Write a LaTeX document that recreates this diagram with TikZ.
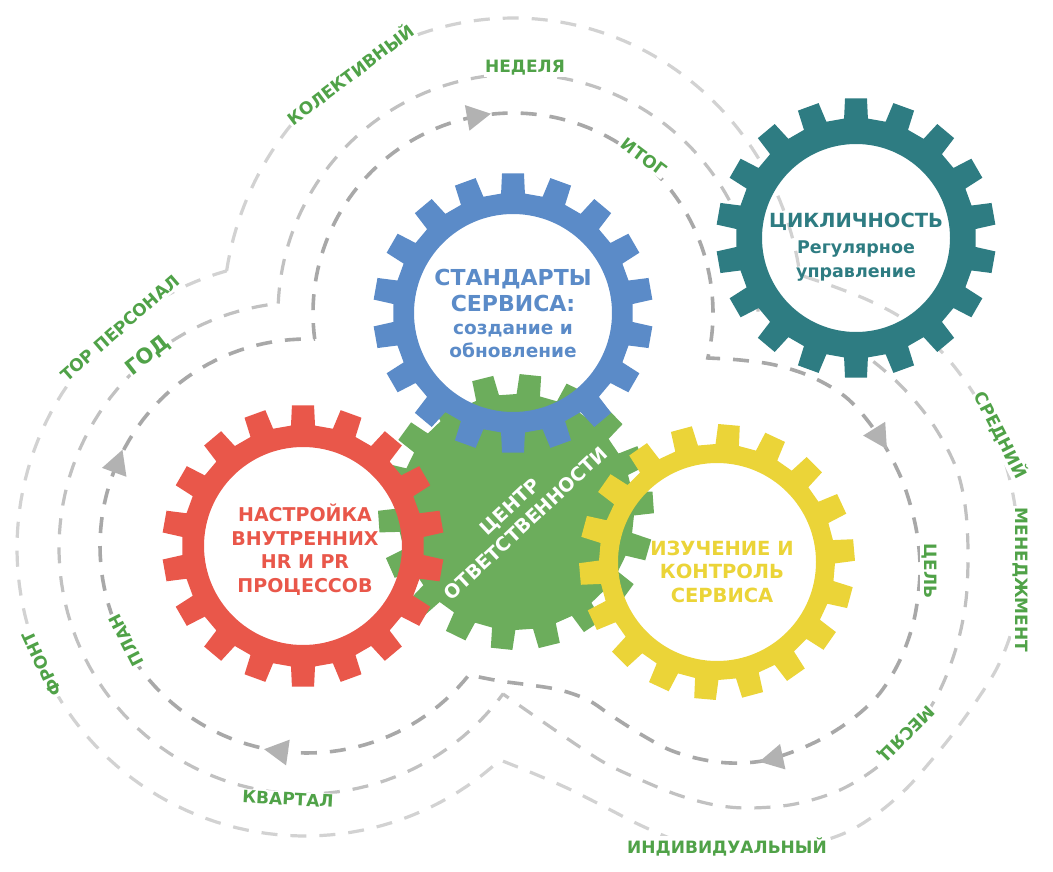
\documentclass[tikz,border=0pt]{standalone}
\usepackage{fontspec}
\setmainfont{DejaVu Sans}
\definecolor{gblue}{RGB}{91,139,200}
\definecolor{gteal}{RGB}{46,124,130}
\definecolor{gred}{RGB}{233,87,74}
\definecolor{gyellow}{RGB}{235,212,56}
\definecolor{ggreen}{RGB}{108,173,92}
\definecolor{lgreen}{RGB}{80,162,72}
\definecolor{lineA}{RGB}{168,168,168}
\definecolor{lineB}{RGB}{193,193,193}
\definecolor{lineC}{RGB}{210,210,210}
\definecolor{arrowc}{RGB}{178,178,178}
\newcommand{\fsz}[1]{\fontsize{#1}{#1}\selectfont}
% cx, cy, phase, Ro, Rr, Ri, colour
\newcommand{\drawgear}[7]{%
  \fill[#7, even odd rule, shift={(#1,#2)}] ({#3-5.7}:#5)
    \foreach \k in {0,...,17}{ -- ({#3+20*\k-5.7}:#5) -- ({#3+20*\k-4.5}:#4) -- ({#3+20*\k+4.5}:#4) -- ({#3+20*\k+5.7}:#5) } -- cycle
    (0,0) circle[radius=#6];}
\newcommand{\drawsolidgear}[6]{%
  \fill[#6, shift={(#1,#2)}] ({#3-5.7}:#5)
    \foreach \k in {0,...,17}{ -- ({#3+20*\k-5.7}:#5) -- ({#3+20*\k-4.5}:#4) -- ({#3+20*\k+4.5}:#4) -- ({#3+20*\k+5.7}:#5) } -- cycle;}
\newcommand{\flowtri}[3]{\fill[arrowc, shift={(#1,#2)}, rotate=#3] (13,0) -- (-11,-13) -- (-11,13) -- cycle;}
\begin{document}
\begin{tikzpicture}[x=1pt,y=-1pt,
  inl/.style={draw=lineA, line width=3.6pt, dash pattern=on 16pt off 13pt},
  midl/.style={draw=lineB, line width=3.2pt, dash pattern=on 16pt off 13pt},
  outl/.style={draw=lineC, line width=3.2pt, dash pattern=on 16pt off 13pt},
  lab/.style={text=lgreen, font=\bfseries\fsz{17}, fill=white, inner sep=1.5pt},
  gtxt/.style={font=\bfseries\fsz{#1}, anchor=base, inner sep=0pt}]
\useasboundingbox (0,0) rectangle (1053,872);
\fill[white] (0,0) rectangle (1053,872);

% ---------- dashed loops ----------
\draw[outl] plot[domain=189:351.8, samples=100, variable=\t] ({513+290*cos(\t)},{318+300*sin(\t)})
  -- plot[smooth, tension=0.55] coordinates {(800,275) (835,287) (870,301) (905,320) (940,350) (968,385) (990,422) (1004,458) (1014,500) (1019,545) (1019,590) (1012,630) (997,668) (975,703) (952,735) (930,762) (906,789) (878,813) (845,833) (800,847) (755,852) (715,850) (680,842) (640,825) (601,805) (567,788) (530,772) (500,760)}
  -- plot[domain=47.4:254.2, samples=100, variable=\t] ({305+288*cos(\t)},{548+288*sin(\t)}) -- cycle;

\draw[midl] plot[domain=182.5:360, samples=100, variable=\t] ({518+240*cos(\t)},{314+240*sin(\t)})
  -- plot[smooth, tension=0.55] coordinates {(758,314) (800,322) (850,345) (895,380) (930,420) (955,465) (965,505) (968,550) (966,600) (957,645) (940,690) (915,730) (880,765) (840,790) (795,804) (750,808) (715,805) (678,795) (641,780) (605,763) (565,737) (503,694)}
  -- plot[domain=36.3:263.7, samples=100, variable=\t] ({305+246*cos(\t)},{548+246*sin(\t)}) -- cycle;

\draw[inl] plot[domain=172.5:373, samples=100, variable=\t] ({513+200*cos(\t)},{313+200*sin(\t)})
  -- plot[smooth, tension=0.55] coordinates {(708,358) (740,360) (775,365) (812,377) (848,399) (878,435) (902,480) (916,528) (920,572) (914,620) (900,660) (880,693) (855,717) (825,737) (795,751) (762,761) (730,763) (700,759) (670,750) (642,735) (612,716) (588,700) (560,690) (530,685) (500,681) (469,675)}
  -- plot[domain=38.4:272.1, samples=100, variable=\t] ({307+207*cos(\t)},{546+207*sin(\t)}) -- cycle;

% ---------- arrow heads ----------
\flowtri{478}{116}{10}
\flowtri{880}{438}{-58}
\flowtri{772}{759}{192}
\flowtri{277}{751}{172}
\flowtri{118}{462}{70}

% ---------- gears ----------
\drawsolidgear{516}{512}{16}{138}{118}{ggreen}
\node[font=\bfseries\fsz{19}, text=white, align=center, rotate=43, inner sep=0pt] (gcenter) at (518,515) {ЦЕНТР\\[4pt]ОТВЕТСТВЕННОСТИ};
\drawgear{513}{313}{10}{140}{120}{99}{gblue}
\drawgear{303}{546}{10}{141}{121}{99}{gred}
\drawgear{717}{562}{15}{138}{118}{99}{gyellow}
\drawgear{856}{238}{10}{140}{120}{94}{gteal}

% ---------- gear texts ----------
\node[gtxt=22, text=gblue] (b1) at (513,285) {СТАНДАРТЫ};
\node[gtxt=22, text=gblue] (b2) at (513,311) {СЕРВИСА:};
\node[gtxt=18.5, text=gblue] (b3) at (513,334) {создание и};
\node[gtxt=18.5, text=gblue] (b4) at (513,357) {обновление};

\node[gtxt=19.5, text=gteal] (t1) at (856,227) {ЦИКЛИЧНОСТЬ};
\node[gtxt=17.5, text=gteal] (t2) at (856,253) {Регулярное};
\node[gtxt=17.5, text=gteal] (t3) at (856,277) {управление};

\node[gtxt=19, text=gred] (r1) at (305,521.5) {НАСТРОЙКА};
\node[gtxt=19, text=gred] (r2) at (305,545) {ВНУТРЕННИХ};
\node[gtxt=19, text=gred] (r3) at (305,568.5) {HR И PR};
\node[gtxt=19, text=gred] (r4) at (305,592) {ПРОЦЕССОВ};

\node[gtxt=19.5, text=gyellow] (y1) at (722,555) {ИЗУЧЕНИЕ И};
\node[gtxt=19.5, text=gyellow] (y2) at (722,578.5) {КОНТРОЛЬ};
\node[gtxt=19.5, text=gyellow] (y3) at (722,602) {СЕРВИСА};

% ---------- labels ----------
\node[lab, rotate=37] (l1) at (350,74) {КОЛЕКТИВНЫЙ};
\node[lab] (l2) at (525,68) {НЕДЕЛЯ};
\node[lab, rotate=-37] (l3) at (644,157) {ИТОГ};
\node[lab, rotate=41] (l4) at (120,328) {ТОР ПЕРСОНАЛ};
\node[lab, rotate=38, font=\bfseries\fsz{21}, inner sep=0.5pt] (l5) at (148,356) {ГОД};
\node[lab, rotate=115] (l6) at (42,664) {ФРОНТ};
\node[lab, rotate=117] (l7) at (126,640) {ПЛАН};
\node[lab, rotate=-3] (l8) at (288,799) {КВАРТАЛ};
\node[lab] (l9) at (727,847) {ИНДИВИДУАЛЬНЫЙ};
\node[lab, rotate=225] (l10) at (906,733) {МЕСЯЦ};
\node[lab, rotate=-90] (l11) at (929,571) {ЦЕЛЬ};
\node[lab, rotate=-90] (l12) at (1020,580) {МЕНЕДЖМЕНТ};
\node[lab, rotate=-63] (l13) at (1001,435) {СРЕДНИЙ};
\end{tikzpicture}
\end{document}
